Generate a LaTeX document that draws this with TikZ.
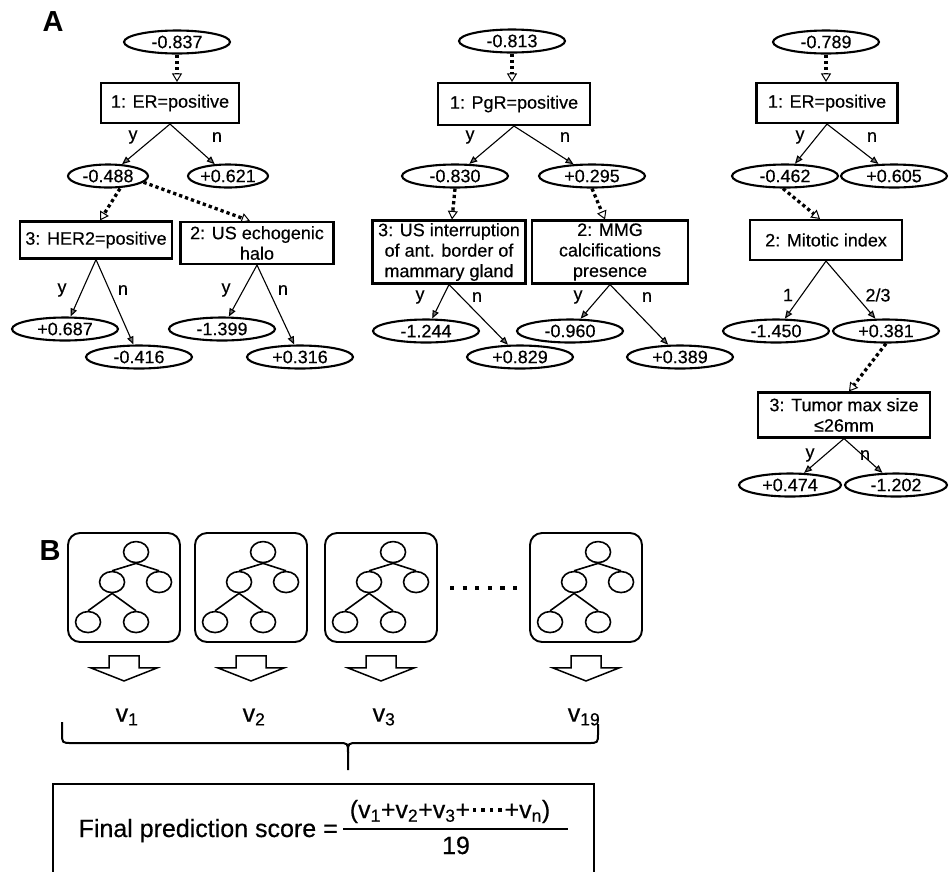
\documentclass[tikz,border=0pt]{standalone}
\usepackage{fontspec}
\setmainfont{Liberation Sans}
\newfontfamily\heavyfam{Liberation Sans}[FakeBold=0.4]
\usetikzlibrary{shapes.geometric,arrows.meta,calc}
\newcommand\treefont{\heavyfam\fontsize{18}{20.5}\selectfont}
\newcommand\bigfont{\heavyfam\fontsize{25}{29}\selectfont}
\newcommand\sqdot{\hspace{2.5pt}\raisebox{6.5pt}{\rule{3.6pt}{3.6pt}}\hspace{2.5pt}}
\begin{document}
\begin{tikzpicture}[x=1pt,y=-1pt,
  ell/.style={ellipse, draw, line width=2.1pt, minimum width=106pt, minimum height=23pt, inner sep=0pt, font=\treefont},
  ells/.style={ell, minimum width=80pt},
  cbox/.style={rectangle, draw, line width=2.1pt, align=center, inner sep=0pt, font=\treefont},
  lab/.style={font=\treefont, inner sep=0pt},
  sarr/.style={line width=1.1pt, -{Triangle[length=8pt,width=6.5pt,fill=black!55]}},
  darr/.style={line width=3.3pt, dash pattern=on 3.3pt off 3pt, -{Triangle[open,length=8.5pt,width=10pt,line width=1pt]}},
  tbox/.style={rectangle, draw, rounded corners=12pt, line width=1.9pt, minimum width=112pt, minimum height=109pt, inner sep=0pt},
  ic/.style={ellipse, draw, line width=1.6pt, minimum width=25pt, minimum height=21pt, inner sep=0pt},
  icl/.style={line width=1.6pt},
  vlab/.style={font=\bigfont, inner sep=0pt},
  panel/.style={font=\fontsize{29}{33}\selectfont\bfseries, inner sep=0pt}
]
\useasboundingbox (0,0) rectangle (949,871);
\clip (0,0) rectangle (949,871);

\node[panel] (lA) at (53,22) {A};
\node[panel] (lB) at (50,551) {B};

% ---------- tree 1
\node[ell] (r1) at (177,42) {-0.837};
\node[cbox, minimum width=138pt, minimum height=40pt] (b1) at (170,103) {1: ER=positive};
\node[ells] (m1a) at (108,176) {-0.488};
\node[ells] (m1b) at (228,176) {+0.621};
\node[cbox, minimum width=152pt, minimum height=37pt] (b1c) at (96,240) {3: HER2=positive};
\node[cbox, minimum width=153pt, minimum height=42pt] (b1d) at (257,243) {2: US echogenic\\halo};
\node[ell] (l1a) at (65,329) {+0.687};
\node[ell] (l1b) at (139,357) {-0.416};
\node[ell] (l1c) at (222,329) {-1.399};
\node[ell] (l1d) at (300,357) {+0.316};
\node[lab] (y1) at (133,137) {y};
\node[lab] (n1) at (217,137) {n};
\node[lab] (y1c) at (62,290) {y};
\node[lab] (n1c) at (123,290) {n};
\node[lab] (y1d) at (226,290) {y};
\node[lab] (n1d) at (283,290) {n};
\draw[darr] (r1.south) -- (r1.south |- b1.north);
\draw[sarr] (b1.south) -- (m1a);
\draw[sarr] (b1.south) -- (m1b);
\draw[darr] ([xshift=12pt]m1a.south) -- ([xshift=4pt]b1c.north);
\draw[darr] (m1a.-10) -- ([xshift=-7pt]b1d.north);
\draw[sarr] (b1c.south) -- (l1a);
\draw[sarr] (b1c.south) -- (l1b);
\draw[sarr] (b1d.south) -- (l1c);
\draw[sarr] (b1d.south) -- (l1d);

% ---------- tree 2
\node[ell] (r2) at (512,41) {-0.813};
\node[cbox, minimum width=152pt, minimum height=42pt] (b2) at (514,104) {1: PgR=positive};
\node[ell] (m2a) at (455,176) {-0.830};
\node[ell] (m2b) at (592,176) {+0.295};
\node[cbox, minimum width=153pt, minimum height=63pt] (b2c) at (449,252) {3: US interruption\\of ant. border of\\mammary gland};
\node[cbox, minimum width=156pt, minimum height=63pt] (b2d) at (610,252) {2: MMG\\calcifications\\presence};
\node[ell] (l2a) at (426,331) {-1.244};
\node[ell] (l2b) at (520,357) {+0.829};
\node[ell] (l2c) at (570,331) {-0.960};
\node[ell] (l2d) at (680,357) {+0.389};
\node[lab] (y2) at (470,137) {y};
\node[lab] (n2) at (565,137) {n};
\node[lab] (y2c) at (420,297) {y};
\node[lab] (n2c) at (477,297) {n};
\node[lab] (y2d) at (578,297) {y};
\node[lab] (n2d) at (647,297) {n};
\draw[darr] (r2.south) -- (r2.south |- b2.north);
\draw[sarr] (b2.south) -- (m2a);
\draw[sarr] (b2.south) -- (m2b);
\draw[darr] (m2a.south) -- ([xshift=3pt]b2c.north);
\draw[darr] (m2b.south) -- ([xshift=-5pt]b2d.north);
\draw[sarr] (b2c.south) -- (l2a);
\draw[sarr] (b2c.south) -- (l2b);
\draw[sarr] (b2d.south) -- (l2c);
\draw[sarr] (b2d.south) -- (l2d);

% ---------- tree 3
\node[ell] (r3) at (826,42) {-0.789};
\node[cbox, minimum width=141pt, minimum height=40pt] (b3) at (827,103) {1: ER=positive};
\node[ell] (m3a) at (785,176) {-0.462};
\node[ell] (m3b) at (894,176) {+0.605};
\node[cbox, minimum width=152pt, minimum height=40pt] (b3c) at (826,240) {2: Mitotic index};
\node[ell] (l3a) at (776,331) {-1.450};
\node[ell] (l3b) at (886,331) {+0.381};
\node[cbox, minimum width=172pt, minimum height=45pt] (b3d) at (844,415) {3: Tumor max size\\≤26mm};
\node[ell, minimum width=102pt] (l3c) at (790,485) {+0.474};
\node[ell, minimum width=102pt] (l3d) at (896,485) {-1.202};
\node[lab] (y3) at (800,137) {y};
\node[lab] (n3) at (872,137) {n};
\node[lab] (o3c) at (788,295) {1};
\node[lab] (t3c) at (878,295) {2/3};
\node[lab] (y3d) at (810,455) {y};
\node[lab] (n3d) at (865,455) {n};
\draw[darr] (r3.south) -- (r3.south |- b3.north);
\draw[sarr] (b3.south) -- (m3a);
\draw[sarr] (b3.south) -- (m3b);
\draw[darr] ([xshift=-2pt]m3a.south) -- ([xshift=-6pt]b3c.north);
\draw[sarr] (b3c.south) -- (l3a);
\draw[sarr] (b3c.south) -- (l3b);
\draw[darr] (l3b.south) -- ([xshift=5pt]b3d.north);
\draw[sarr] (b3d.south) -- (l3c);
\draw[sarr] (b3d.south) -- (l3d);

% ---------- part B
\foreach \n/\xl/\vx in {1/68/3,2/195/3,3/325/3,19/530/-2} {
  \node[tbox] (tb\n) at (\xl+56,587.5) {};
  \node[ic] (tb\n-a) at ($(tb\n.north west)+(69,20)$) {};
  \node[ic] (tb\n-b) at ($(tb\n.north west)+(45,50)$) {};
  \node[ic] (tb\n-c) at ($(tb\n.north west)+(92,50)$) {};
  \node[ic] (tb\n-d) at ($(tb\n.north west)+(21,90)$) {};
  \node[ic] (tb\n-e) at ($(tb\n.north west)+(69,90)$) {};
  \draw[icl] (tb\n-a.south) -- (tb\n-b.north);
  \draw[icl] (tb\n-a.south) -- (tb\n-c.north);
  \draw[icl] (tb\n-b.south) -- (tb\n-d.north);
  \draw[icl] (tb\n-b.south) -- (tb\n-e.north);
  \draw[line width=1.5pt] ($(tb\n.south)+(-15,13)$) -- ++(30,0) -- ++(0,12) -- ++(18,0)
     -- ($(tb\n.south)+(0,38)$) -- ($(tb\n.south)+(-33,25)$) -- ++(18,0) -- cycle;
  \node[vlab] (v\n) at ($(tb\n.south)+(\vx,74)$) {v\textsubscript{\n}};
}
\draw[line width=4.2pt, dash pattern=on 4.2pt off 8.4pt] (450,588) -- (518,588);

% brace
\coordinate (brL) at (62,722);
\coordinate (brR) at (598,724);
\coordinate (brT) at (348,770);
\draw[line width=2pt] (brL) -- (62,733) .. controls (62,743) .. (72,743) -- (338,743)
   .. controls (348,743) .. (348,753) -- (brT);
\draw[line width=2pt] (348,753) .. controls (348,743) .. (358,743) -- (588,743)
   .. controls (598,743) .. (598,733) -- (brR);

% formula box
\node[draw, line width=2pt, minimum width=541pt, minimum height=100pt, anchor=north west, inner sep=0pt] (fbox) at (52,783) {};
\node[vlab, anchor=base east] (ftxt) at (338,837) {Final prediction score =};
\coordinate (fracL) at (343,829);
\coordinate (fracR) at (568,829);
\draw[line width=1.5pt] (fracL) -- (fracR);
\node[vlab, anchor=base] (fnum) at (450,818) {(v\textsubscript{1}+v\textsubscript{2}+v\textsubscript{3}+\sqdot\sqdot\sqdot\sqdot+v\textsubscript{n})};
\node[vlab, anchor=base] (fden) at (456,854) {19};
\end{tikzpicture}
\end{document}
